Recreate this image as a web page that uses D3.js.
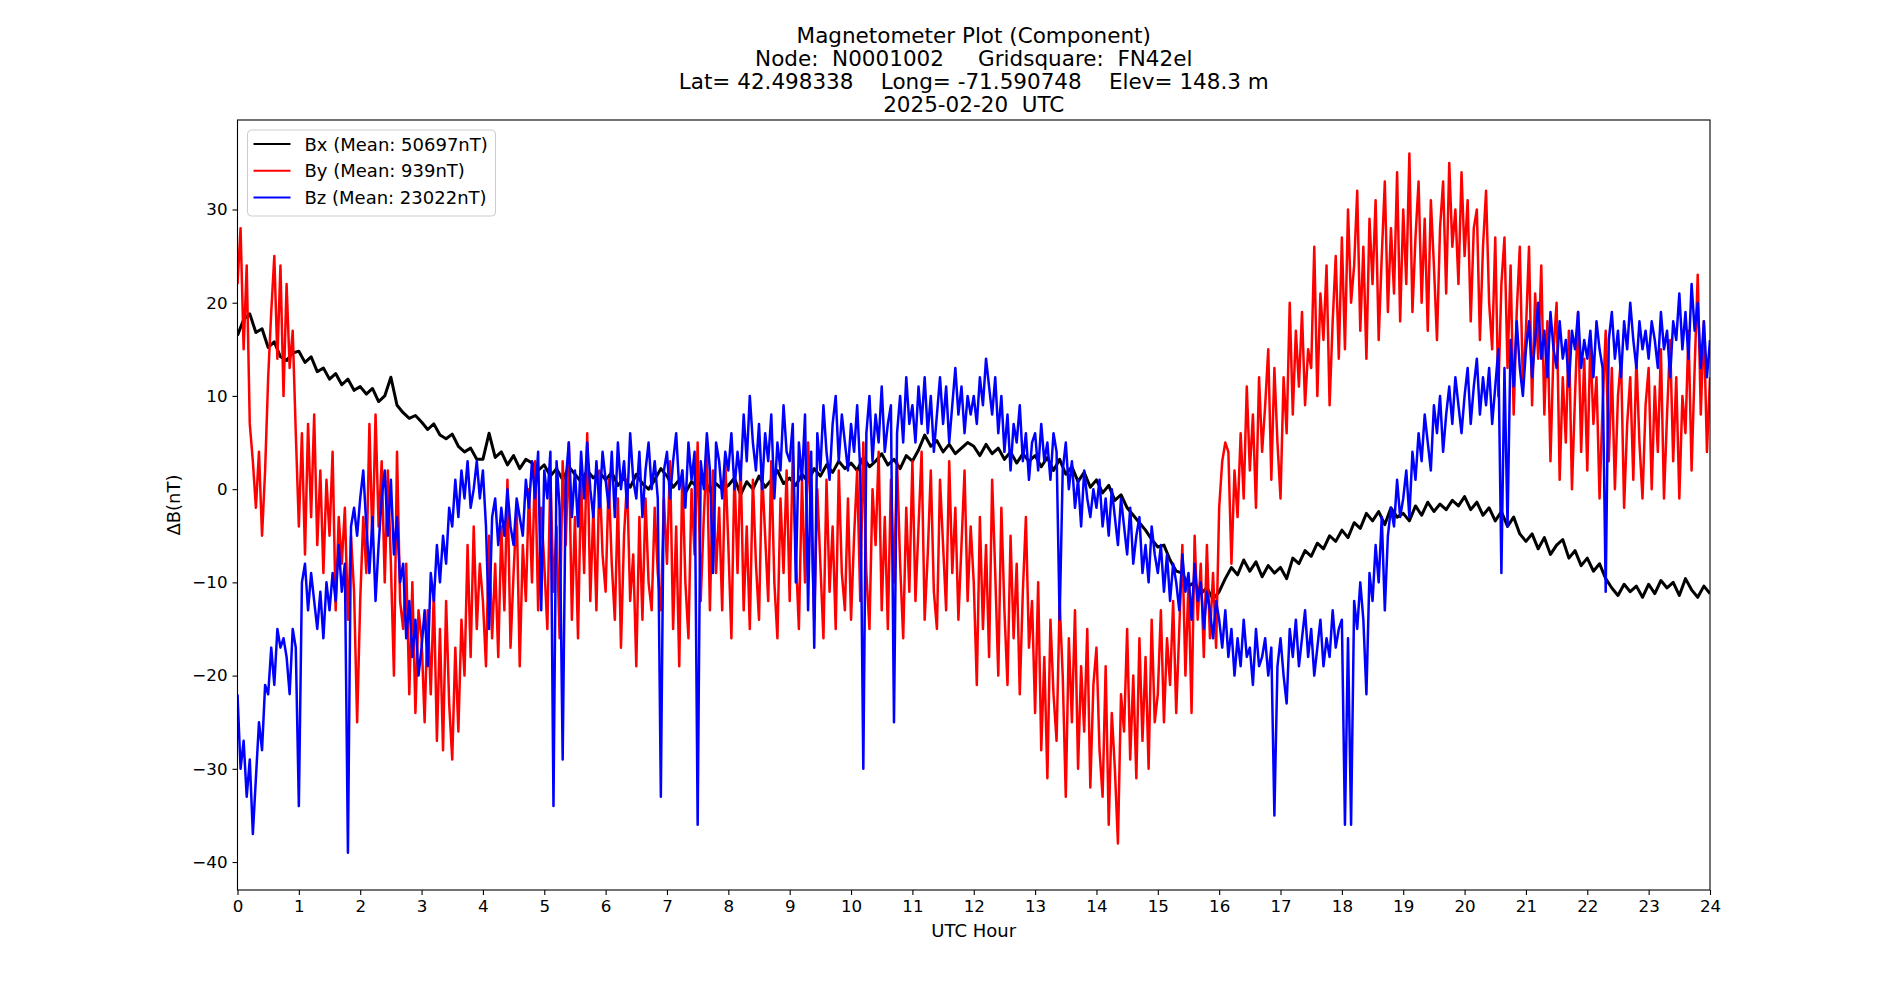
<!DOCTYPE html>
<html>
<head>
<meta charset="utf-8">
<script src="https://cdn.jsdelivr.net/npm/d3@7"></script>
<style>
  body { margin: 0; background: #fff; }
  text { font-family: "DejaVu Sans", sans-serif; }
</style>
</head>
<body>
<div id="chart"></div>
<script>
const bxStep = 0.1;
const bxValues = [
  16.5, 18.2, 18.8, 16.8, 17.2, 15.2, 15.8, 14.2, 13.8, 14.6,
  14.8, 13.6, 14.2, 12.6, 13.0, 11.8, 12.4, 11.2, 11.8, 10.6,
  11.0, 10.2, 10.8, 9.4, 10.0, 12.0, 9.0, 8.2, 7.6, 7.9,
  7.2, 6.4, 7.0, 5.8, 5.4, 5.9, 4.6, 4.0, 4.4, 3.2,
  3.2, 6.0, 3.4, 4.0, 2.6, 3.6, 2.2, 3.2, 2.8, 2.0,
  2.6, 1.4, 2.2, 1.0, 2.4, 1.6, 0.8, 2.0, 1.2, 1.8,
  1.0, 1.8, 0.4, 1.2, 0.2, 1.6, 0.6, 0.0, 1.0, 2.2,
  1.4, 0.2, 1.0, -0.4, 0.8, 0.2, 1.2, -0.2, 0.6, 0.0,
  0.4, 1.2, -0.6, 0.8, 0.0, 1.4, 0.2, 1.0, 2.0, 0.6,
  1.2, 0.4, 1.6, 0.8, 2.2, 1.4, 2.6, 1.8, 3.0, 2.2,
  2.8, 2.0, 3.4, 2.4, 3.0, 3.8, 2.6, 3.2, 2.2, 3.6,
  3.0, 4.2, 5.8, 4.6, 5.2, 4.0, 4.8, 3.8, 4.4, 5.0,
  4.6, 3.6, 4.8, 3.8, 4.4, 3.2, 4.0, 2.8, 3.8, 3.0,
  3.6, 2.4, 3.4, 2.0, 3.2, 1.6, 2.4, 0.8, 1.8, 0.2,
  1.0, -0.4, 0.4, -1.2, -0.6, -2.0, -2.8, -3.6, -4.4, -5.4,
  -6.2, -6.0, -7.6, -8.8, -9.0, -10.4, -10.0, -11.2, -10.6, -11.8,
  -11.0, -9.6, -8.4, -9.2, -7.6, -8.8, -7.8, -9.4, -8.2, -9.0,
  -8.4, -9.6, -7.4, -8.0, -6.6, -7.2, -5.8, -6.4, -5.0, -5.6,
  -4.4, -5.2, -3.6, -4.2, -2.6, -3.4, -2.4, -3.8, -2.0, -3.0,
  -2.6, -3.4, -1.8, -2.8, -1.4, -2.4, -1.6, -2.2, -1.2, -1.8,
  -0.8, -2.2, -1.4, -2.8, -2.0, -3.4, -2.4, -4.0, -3.0, -4.8,
  -5.6, -4.8, -6.4, -5.2, -7.0, -6.0, -5.4, -7.4, -6.6, -8.2,
  -7.4, -8.8, -8.0, -9.6, -10.6, -11.4, -10.2, -11.0, -10.4, -11.6,
  -10.2, -11.2, -9.8, -10.6, -10.0, -11.4, -9.6, -10.8, -11.6, -10.4,
  -11.2
];

const byStep = 0.05;
const byValues = [
  22, 28, 15, 24, 7, 3, -2, 4, -5, 2, 12, 19, 25, 14, 24, 10, 22, 13, 17, 6,
  -4, 6, -7, 7, -3, 8, -6, 2, -9, 1, -5, 4, -13, -3, -8, -2, -14, -5, -11, -25,
  -12, -3, -9, 7, -6, 8, -4, 3, -10, 2, -8, -20, 4, -12, -15, -8, -22, -10, -24, -13,
  -16, -25, -13, -22, -11, -27, -15, -28, -12, -23, -29, -17, -26, -14, -20, -6, -18, -4, -15, -8,
  -12, -19, -5, -16, -8, -18, -4, -13, 1, -17, -9, -2, -19, -6, -12, 0, -10, 3, -13, -2,
  -8, -15, 2, -11, -4, -16, 3, -6, 5, -14, -3, -16, 1, -9, 6, -12, -2, -13, 2, -7,
  -11, 1, -8, -14, -1, -17, -5, 1, -12, -7, -19, -3, -14, -1, -10, -13, -2, -9, -13, -1,
  -8, 3, -15, -4, -19, 2, -10, -16, 0, -7, 5, -12, -3, 4, -13, 2, -9, -2, -13, 3,
  -6, -16, 2, -9, 3, -13, -4, -15, 1, -8, -14, 2, -5, -12, 3, -10, -16, -1, -9, 2,
  -12, 4, -7, -15, 1, -10, 5, -3, -14, 0, -8, -16, 1, -11, -4, -15, 2, -9, -13, -1,
  -14, -5, 2, -12, 5, -9, -15, 0, -6, 4, -13, -3, -15, 1, -10, 3, -8, -16, -2, -11,
  3, -12, -4, 4, -14, -7, 2, -11, -15, 1, -6, -13, 3, -9, -2, -14, -6, 2, -12, -4,
  -10, -21, -3, -15, -6, -18, 1, -9, -20, -2, -13, -21, -5, -16, -8, -22, -11, -3, -17, -12,
  -24, -10, -28, -18, -31, -14, -22, -27, -12, -20, -33, -16, -25, -13, -30, -19, -26, -15, -32, -21,
  -17, -28, -33, -19, -36, -24, -30, -38, -22, -26, -15, -29, -20, -31, -16, -27, -18, -30, -14, -25,
  -22, -13, -25, -16, -21, -12, -24, -15, -6, -20, -10, -24, -5, -14, -8, -18, -6, -16, -9, -17,
  -2, 3, 5, 4, -8, 2, -3, 6, -1, 11, 2, 8, -2, 12, 4, 9, 15, 1, 13, 5,
  -1, 12, 6, 20, 8, 17, 11, 19, 9, 15, 13, 26, 10, 21, 16, 24, 9, 18, 25, 14,
  27, 15, 30, 20, 24, 32, 17, 26, 14, 29, 22, 31, 16, 25, 33, 19, 28, 21, 34, 18,
  30, 22, 36, 19, 27, 33, 20, 29, 17, 31, 24, 16, 28, 33, 21, 35, 26, 30, 22, 34,
  25, 31, 18, 28, 30, 16, 26, 32, 20, 15, 27, 10, 22, 27, 13, 24, 8, 19, 26, 11,
  17, 26, 9, 21, 14, 24, 8, 18, 3, 15, 20, 1, 12, 5, 17, 0, 10, 19, 4, 14,
  2, 16, 7, 12, -1, 9, 17, 3, 13, 0, 10, 14, -2, 7, 12, 1, 14, 5, -1, 9,
  13, 0, 11, 4, 15, -1, 8, 16, 3, 12, -1, 10, 6, 17, 2, 13, 23, 8, 18, 4,
  12
];

const bzStep = 0.05;
const bzValues = [
  -22, -30, -27, -33, -29, -37, -31, -25, -28, -21, -22, -17, -21, -15, -17, -16, -18, -22, -15, -17,
  -34, -10, -8, -13, -9, -12, -15, -11, -16, -10, -13, -9, -12, -6, -11, -8, -39, -4, -2, -5,
  -1, 2, -4, -9, -3, -12, -6, -1, 2, -5, 1, -7, -3, -10, -8, -16, -12, -18, -14, -20,
  -17, -13, -19, -9, -12, -6, -10, -5, -8, -2, -4, 1, -3, 2, -1, 3, -2, 0, 3, -1,
  2, -4, -15, -3, -1, -6, -2, -5, 0, -4, -6, -1, -3, -5, 1, -2, 3, -1, 4, -13,
  2, -1, 4, -34, 3, -2, -29, 1, 5, -3, 2, -4, 4, -1, 5, 0, -3, 3, -2, 4,
  1, -2, 4, -3, 5, 0, 3, -2, 6, 1, -1, 4, -3, 2, 5, 0, 3, -1, -33, 2,
  4, -1, 3, 6, 0, 2, -2, 5, 1, 4, -36, 3, 0, 6, 2, -9, 5, 3, -1, 4,
  2, 6, 0, 4, 1, 8, 3, 10, 5, 2, 7, 0, 6, 3, 8, -1, 5, 2, 9, 4,
  3, 7, -10, 5, 1, 8, -13, 4, -17, 6, 2, 9, 4, 1, 7, 10, 3, 8, 5, 2,
  7, 4, 9, 2, -30, 6, 10, 3, 8, 5, 11, 4, 7, 9, -25, 6, 10, 5, 12, 7,
  9, 5, 11, 7, 12, 6, 10, 4, 8, 12, 7, 11, 5, 9, 13, 8, 11, 6, 10, 8,
  10, 7, 12, 9, 14, 11, 8, 12, 6, 10, 4, 8, 2, 7, 5, 9, 3, 6, 1, 5,
  6, 2, 7, 3, 5, 1, 6, 4, -14, 2, 5, 0, 3, -2, 1, -4, 2, -1, -3, 0,
  -2, 1, -4, -1, -5, 0, -3, -6, -1, -4, -7, -2, -8, -5, -3, -9, -6, -10, -4, -7,
  -9, -6, -11, -7, -12, -8, -10, -13, -7, -11, -9, -14, -8, -12, -10, -15, -11, -13, -16, -12,
  -14, -17, -13, -18, -15, -20, -16, -19, -14, -18, -17, -21, -15, -19, -18, -16, -20, -17, -35, -19,
  -16, -20, -23, -15, -18, -14, -19, -16, -13, -18, -15, -20, -17, -14, -19, -16, -18, -13, -17, -15,
  -14, -36, -16, -36, -12, -15, -10, -14, -22, -9, -12, -6, -10, -3, -13, -5, -2, -4, 1, -3,
  -1, 2, -3, 4, 1, 6, 3, 8, 5, 2, 9, 6, 10, 4, 8, 11, 7, 12, 9, 6,
  10, 13, 7, 11, 14, 8, 12, 9, 13, 7, 11, 15, -9, 13, -4, 16, 11, 18, 13, 10,
  15, 18, 12, 16, 20, 14, 17, 12, 19, 15, 13, 18, 14, 16, 11, 17, 15, 19, 13, 16,
  14, 17, 12, 18, 15, 13, -11, 16, 19, 14, 17, 12, 18, 15, 20, 16, 13, 18, 15, 17,
  14, 18, 16, 13, 19, 15, 17, 12, 18, 16, 21, 15, 19, 14, 22, 17, 20, 13, 18, 12,
  16
];

const seriesNames = ["Bx (Mean: 50697nT)", "By (Mean: 939nT)", "Bz (Mean: 23022nT)"];
const seriesColors = ["black", "red", "blue"];
const seriesWidths = [3, 2.5, 2.5];
const xTicks = d3.range(0, 25);
const yTicks = [-40, -30, -20, -10, 0, 10, 20, 30];
const titleLines = [
  "Magnetometer Plot (Component)",
  "Node:  N0001002     Gridsquare:  FN42el",
  "Lat= 42.498338    Long= -71.590748    Elev= 148.3 m",
  "2025-02-20  UTC"
];

const margin = { top: 120, right: 190, bottom: 110, left: 237.5 };
const width = 1900 - margin.left - margin.right;
const height = 1000 - margin.top - margin.bottom;

const svg = d3.select("#chart")
    .append("svg")
    .attr("width", 1900)
    .attr("height", 1000);

const g = svg.append("g")
    .attr("transform", `translate(${margin.left},${margin.top})`);

const x = d3.scaleLinear().domain([0, 24]).range([0, width]);
const y = d3.scaleLinear().domain([-43, 39.6]).range([height, 0]);

const toPoints = (vals, step) => vals.map((v, i) => [i * step, v]);
const series = [
    toPoints(bxValues, bxStep),
    toPoints(byValues, byStep),
    toPoints(bzValues, bzStep)
];

g.append("clipPath").attr("id", "clip")
    .append("rect").attr("width", width).attr("height", height);

const line = d3.line().x(d => x(d[0])).y(d => y(d[1]));

g.append("g").attr("clip-path", "url(#clip)")
    .selectAll("path")
    .data(series)
    .enter()
    .append("path")
    .attr("d", line)
    .attr("fill", "none")
    .attr("stroke", (d, i) => seriesColors[i])
    .attr("stroke-width", (d, i) => seriesWidths[i])
    .attr("stroke-linejoin", "round");

// Axes
const xAxis = g.append("g")
    .attr("transform", `translate(0,${height})`)
    .call(d3.axisBottom(x).tickValues(xTicks).tickSize(5).tickPadding(5).tickFormat(d3.format("d")));
const yAxis = g.append("g")
    .call(d3.axisLeft(y).tickValues(yTicks).tickSize(5).tickPadding(5));

[xAxis, yAxis].forEach(a => {
    a.select(".domain").remove();
    a.selectAll("line").attr("stroke", "black").attr("stroke-width", 1.1);
    a.selectAll("text").style("font-size", "16.7px").attr("fill", "black")
        .style("font-family", "DejaVu Sans");
});

// frame
g.append("rect")
    .attr("width", width).attr("height", height)
    .attr("fill", "none").attr("stroke", "black").attr("stroke-width", 1.1);

// Axis labels
svg.append("text")
    .attr("x", margin.left + width / 2)
    .attr("y", 937)
    .attr("text-anchor", "middle")
    .style("font-size", "18px")
    .text("UTC Hour");

svg.append("text")
    .attr("transform", `translate(179.5,${margin.top + height / 2}) rotate(-90)`)
    .attr("text-anchor", "middle")
    .style("font-size", "18px")
    .text("\u0394B(nT)");

// Title
svg.append("g").selectAll("text")
    .data(titleLines)
    .enter()
    .append("text")
    .attr("x", margin.left + width / 2)
    .attr("y", (d, i) => 43 + i * 23)
    .attr("text-anchor", "middle")
    .style("font-size", "21.5px")
    .style("white-space", "pre")
    .text(d => d);

// Legend
const legend = g.append("g").attr("transform", "translate(10,10)");
legend.append("rect")
    .attr("width", 248).attr("height", 86)
    .attr("rx", 4)
    .attr("fill", "white").attr("fill-opacity", 0.8)
    .attr("stroke", "#cccccc").attr("stroke-width", 1);

const items = legend.selectAll(".item")
    .data(seriesNames)
    .enter()
    .append("g")
    .attr("transform", (d, i) => `translate(0,${14 + i * 26.8})`);

items.append("line")
    .attr("x1", 6).attr("x2", 43)
    .attr("stroke", (d, i) => seriesColors[i])
    .attr("stroke-width", 2);

items.append("text")
    .attr("x", 57)
    .attr("y", 6.5)
    .style("font-size", "18px")
    .text(d => d);
</script>
</body>
</html>
